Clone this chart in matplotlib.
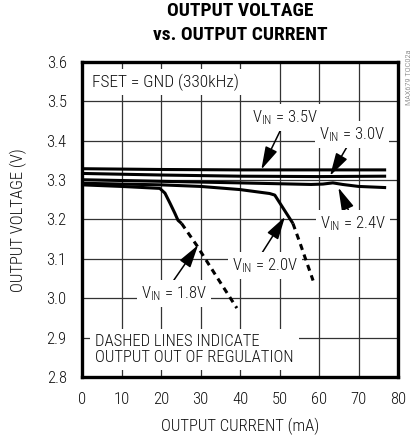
import matplotlib
matplotlib.use('Agg')
import matplotlib.pyplot as plt

plt.rcParams['font.family'] = ['Roboto Condensed', 'Liberation Sans', 'DejaVu Sans']
plt.rcParams['font.weight'] = 'light'

# output current (mA) / output voltage (V)
x_35 = [0, 20, 40, 60, 77]
v_35 = [3.329, 3.327, 3.326, 3.326, 3.326]
x_30 = [0, 20, 40, 60, 77]
v_30 = [3.317, 3.313, 3.310, 3.309, 3.310]
x_24 = [0, 20, 40, 58, 61, 63.5, 66, 70, 77]
v_24 = [3.301, 3.297, 3.293, 3.289, 3.290, 3.293, 3.289, 3.284, 3.281]
x_20 = [0, 20, 30, 40, 47.5, 48.8, 53.4]
v_20 = [3.292, 3.288, 3.284, 3.276, 3.266, 3.262, 3.19]
x_20_dash = [53.4, 55.2, 58.5]
v_20_dash = [3.19, 3.14, 3.045]
x_18 = [0, 10, 19.7, 21, 22.3, 23.5, 24.3, 25.2]
v_18 = [3.288, 3.284, 3.279, 3.267, 3.241, 3.216, 3.198, 3.19]
x_18_dash = [25.2, 29, 34, 39.2]
v_18_dash = [3.19, 3.135, 3.056, 2.975]

x_ticks = [0, 10, 20, 30, 40, 50, 60, 70, 80]
y_ticks = [2.8, 2.9, 3.0, 3.1, 3.2, 3.3, 3.4, 3.5, 3.6]

# label text, label position, arrow start, arrow tip
labels = [
    (r'$\mathregular{V_{IN}}$ = 3.5V', (51.4, 3.458), (50.6, 3.434), (45.4, 3.327)),
    (r'$\mathregular{V_{IN}}$ = 3.0V', (68.4, 3.415), (67.0, 3.383), (62.8, 3.311)),
    (r'$\mathregular{V_{IN}}$ = 2.4V', (68.6, 3.189), (68.2, 3.207), (64.9, 3.281)),
    (r'$\mathregular{V_{IN}}$ = 2.0V', (46.3, 3.082), (45.5, 3.114), (51.4, 3.207)),
    (r'$\mathregular{V_{IN}}$ = 1.8V', (23.3, 3.011), (22.7, 3.038), (29.4, 3.135)),
]

fig = plt.figure(figsize=(4.19, 4.41), dpi=100)
ax = fig.add_axes([82 / 419, 1 - 377 / 441, 316 / 419, 315 / 441])

lw = 2.2
for xs, vs in [(x_35, v_35), (x_30, v_30), (x_24, v_24), (x_20, v_20), (x_18, v_18)]:
    ax.plot(xs, vs, color='black', lw=lw, solid_capstyle='butt')
for xs, vs in [(x_20_dash, v_20_dash), (x_18_dash, v_18_dash)]:
    ax.plot(xs, vs, color='black', lw=lw, linestyle=(0, (2.0, 1.6)))

ax.set_xlim(0, 80)
ax.set_ylim(2.8, 3.6)
ax.set_xticks(x_ticks)
ax.set_yticks(y_ticks)
ax.set_yticklabels(['%.1f' % v for v in y_ticks])
ax.tick_params(length=0, labelsize=12, colors='#111')
ax.tick_params(axis='y', pad=11)
ax.tick_params(axis='x', pad=11)
ax.set_axisbelow(True)
ax.grid(True, color='#333', lw=0.9)
for s in ax.spines.values():
    s.set_linewidth(2.4)

box = dict(boxstyle='square,pad=0.25', fc='white', ec='none')
ax.text(2.5, 3.549, 'FSET = GND (330kHz)', fontsize=12.5, va='center', ha='left',
        bbox=box, color='#111')
for txt, pos, start, tip in labels:
    ax.text(pos[0], pos[1], txt, fontsize=12, ha='center', va='center', bbox=box,
            color='#111', zorder=4)
    ax.annotate('', xy=tip, xytext=start,
                arrowprops=dict(arrowstyle='-|>,head_length=1.0,head_width=0.28',
                                color='black', lw=1.1, mutation_scale=14,
                                shrinkA=0, shrinkB=0))
ax.text(3.3, 2.869, 'DASHED LINES INDICATE\nOUTPUT OUT OF REGULATION', fontsize=12,
        ha='left', va='center', linespacing=1.1, color='#111',
        bbox=dict(boxstyle='square,pad=0.3', fc='white', ec='none'))

fig.text(240 / 419, 1 - 11 / 441, 'OUTPUT VOLTAGE', fontsize=14,
         fontweight='bold', ha='center', va='center')
fig.text(240 / 419, 1 - 35 / 441, 'vs. OUTPUT CURRENT', fontsize=14,
         fontweight='bold', ha='center', va='center')
fig.text(18 / 419, 1 - 220 / 441, 'OUTPUT VOLTAGE (V)', fontsize=12, rotation=90,
         ha='center', va='center', color='#111')
fig.text(240 / 419, 1 - 426 / 441, 'OUTPUT CURRENT (mA)', fontsize=12,
         ha='center', va='center', color='#111')
fig.text(409 / 419, 1 - 77 / 441, 'MAX679 TOC02a', fontsize=6, rotation=90,
         ha='center', va='center', color='#666')

fig.savefig('out.png', dpi=100)
